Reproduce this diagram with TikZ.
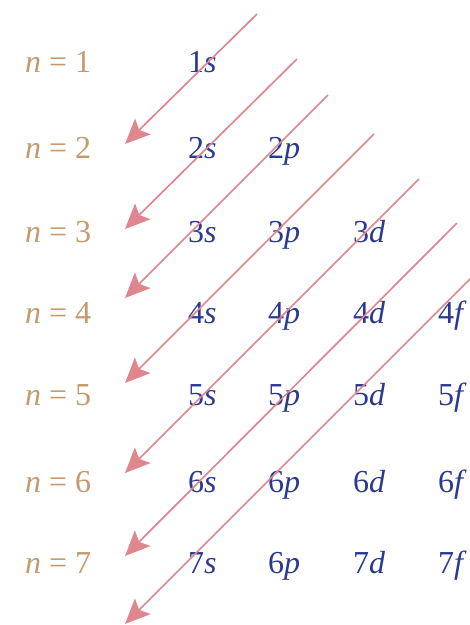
\documentclass[tikz,border=0pt]{standalone}
\usepackage{fontspec}
\setmainfont{Liberation Serif}
\usetikzlibrary{arrows.meta}
\definecolor{tanc}{HTML}{C49A6C}
\definecolor{orbc}{HTML}{2B3990}
\definecolor{arrc}{HTML}{E0868F}
\begin{document}
\begin{tikzpicture}[x=1pt,y=-1pt,
  nlab/.style={anchor=base west,inner sep=0pt,text=tanc,font=\fontsize{32}{36}\selectfont},
  orb/.style={anchor=base west,inner sep=0pt,text=orbc,font=\fontsize{32}{36}\selectfont\itshape},
  diag/.style={draw=arrc,line width=1.7pt,-{Stealth[length=25pt,width=22pt,inset=5pt]}}]
\clip (0,0) rectangle (470,625);
% n labels
\node[nlab] (n1) at (25,72)  {\textit{n} = 1};
\node[nlab] (n2) at (25,158) {\textit{n} = 2};
\node[nlab] (n3) at (25,242) {\textit{n} = 3};
\node[nlab] (n4) at (25,323) {\textit{n} = 4};
\node[nlab] (n5) at (25,405) {\textit{n} = 5};
\node[nlab] (n6) at (25,492) {\textit{n} = 6};
\node[nlab] (n7) at (25,573) {\textit{n} = 7};
% orbitals
\node[orb] (o1s) at (188,72) {\upshape 1\itshape s};
\node[orb] (o2s) at (188,158) {\upshape 2\itshape s};
\node[orb] (o2p) at (268,158) {\upshape 2\itshape p};
\node[orb] (o3s) at (188,242) {\upshape 3\itshape s};
\node[orb] (o3p) at (268,242) {\upshape 3\itshape p};
\node[orb] (o3d) at (353,242) {\upshape 3\itshape d};
\node[orb] (o4s) at (188,323) {\upshape 4\itshape s};
\node[orb] (o4p) at (268,323) {\upshape 4\itshape p};
\node[orb] (o4d) at (353,323) {\upshape 4\itshape d};
\node[orb] (o4f) at (438,323) {\upshape 4\itshape f};
\node[orb] (o5s) at (188,405) {\upshape 5\itshape s};
\node[orb] (o5p) at (268,405) {\upshape 5\itshape p};
\node[orb] (o5d) at (353,405) {\upshape 5\itshape d};
\node[orb] (o5f) at (438,405) {\upshape 5\itshape f};
\node[orb] (o6s) at (188,492) {\upshape 6\itshape s};
\node[orb] (o6p) at (268,492) {\upshape 6\itshape p};
\node[orb] (o6d) at (353,492) {\upshape 6\itshape d};
\node[orb] (o6f) at (438,492) {\upshape 6\itshape f};
\node[orb] (o7s) at (188,573) {\upshape 7\itshape s};
\node[orb] (o7p) at (268,573) {\upshape 6\itshape p};
\node[orb] (o7d) at (353,573) {\upshape 7\itshape d};
\node[orb] (o7f) at (438,573) {\upshape 7\itshape f};
% arrow endpoints
\coordinate (s1) at (257,14);  \coordinate (t1) at (125,144);
\coordinate (s2) at (297,59);  \coordinate (t2) at (125,229);
\coordinate (s3) at (328,95);  \coordinate (t3) at (125,298);
\coordinate (s4) at (374,134); \coordinate (t4) at (125,383);
\coordinate (s5) at (419,179); \coordinate (t5) at (125,473);
\coordinate (s6) at (457,223); \coordinate (t6) at (125,556);
\coordinate (s7) at (490,259); \coordinate (t7) at (125,624);
\foreach \i in {1,...,7} {\draw[diag] (s\i) -- (t\i);}
\end{tikzpicture}
\end{document}
